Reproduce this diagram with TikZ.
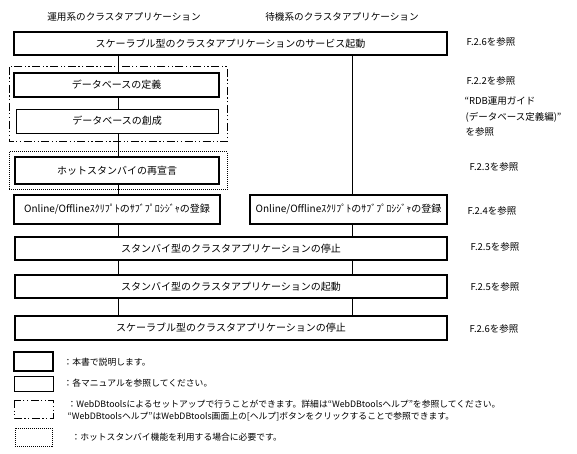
\documentclass[tikz,border=0pt]{standalone}
\usepackage{fontspec}
\setmainfont{Noto Sans CJK JP}
\tikzset{
  stepthick/.style={draw, line width=1.9pt, inner sep=0pt, font=\fontsize{10}{12}\selectfont},
  stepthin/.style={draw, line width=0.8pt, inner sep=0pt, font=\fontsize{10}{12}\selectfont},
  toolframe/.style={line width=1pt, dash pattern=on 8pt off 2.5pt on 1.2pt off 2.5pt on 1.2pt off 2.5pt},
  hotframe/.style={line width=1pt, dash pattern=on 1pt off 1pt},
  reftext/.style={anchor=west, font=\fontsize{9.5}{11}\selectfont},
  notetext/.style={anchor=west, font=\fontsize{8.8}{10}\selectfont},
}
\begin{document}
\begin{tikzpicture}[x=1pt, y=-1pt, font=\fontsize{9.6}{11}\selectfont]
\useasboundingbox (0,0) rectangle (577,454);
\coordinate (lx) at (118,0);
\coordinate (rx) at (352,0);
% column titles
\node (acttitle) at (124,17) {運用系のクラスタアプリケーション};
\node (sbytitle) at (342,17) {待機系のクラスタアプリケーション};
% optional frames
\draw[toolframe] (9,67) rectangle (227,142);
\draw[hotframe] (9,152) rectangle (227,190);
% steps
\node[stepthick, minimum width=433pt, minimum height=23pt] (svcstart) at (230.5,43.5) {スケーラブル型のクラスタアプリケーションのサービス起動};
\node[stepthick, minimum width=205pt, minimum height=24pt] (dbdef) at (116.5,85) {データベースの定義};
\node[stepthin, minimum width=202pt, minimum height=24pt] (dbcreate) at (117,121) {データベースの創成};
\node[stepthick, minimum width=204pt, minimum height=27pt] (hotdecl) at (117,170.5) {ホットスタンバイの再宣言};
\node[stepthick, minimum width=206pt, minimum height=29pt] (actproc) at (117,209.5) {Online/Offlineｽｸﾘﾌﾟﾄのｻﾌﾞﾌﾟﾛｼｼﾞｬの登録};
\node[stepthick, minimum width=197pt, minimum height=29pt] (sbyproc) at (348.5,209.5) {Online/Offlineｽｸﾘﾌﾟﾄのｻﾌﾞﾌﾟﾛｼｼﾞｬの登録};
\node[stepthick, minimum width=432pt, minimum height=23pt] (sbystop) at (231,248.5) {スタンバイ型のクラスタアプリケーションの停止};
\node[stepthick, minimum width=432pt, minimum height=23pt] (sbystart) at (231,286.5) {スタンバイ型のクラスタアプリケーションの起動};
\node[stepthick, minimum width=432pt, minimum height=24pt] (svcstop) at (231,328) {スケーラブル型のクラスタアプリケーションの停止};
% flow lines
\draw[line width=0.8pt] (svcstart.south -| lx) -- (dbdef.north -| lx);
\draw[line width=0.8pt] (dbdef.south -| lx) -- (dbcreate.north -| lx);
\draw[line width=0.8pt] (dbcreate.south -| lx) -- (hotdecl.north -| lx);
\draw[line width=0.8pt] (hotdecl.south -| lx) -- (actproc.north -| lx);
\draw[line width=0.8pt] (actproc.south -| lx) -- (sbystop.north -| lx);
\draw[line width=0.8pt] (sbystop.south -| lx) -- (sbystart.north -| lx);
\draw[line width=0.8pt] (sbystart.south -| lx) -- (svcstop.north -| lx);
\draw[line width=0.8pt] (svcstart.south -| rx) -- (sbyproc.north -| rx);
\draw[line width=0.8pt] (sbyproc.south -| rx) -- (sbystop.north -| rx);
\draw[line width=0.8pt] (sbystop.south -| rx) -- (sbystart.north -| rx);
\draw[line width=0.8pt] (sbystart.south -| rx) -- (svcstop.north -| rx);
% references
\node[reftext] (ref1) at (463,42) {F.2.6を参照};
\node[reftext] (ref2) at (463,81) {F.2.2を参照};
\node[reftext] (ref3a) at (461,101) {“RDB運用ガイド};
\node[reftext] (ref3b) at (462,117) {(データベース定義編)”};
\node[reftext] (ref3c) at (462,132) {を参照};
\node[reftext] (ref4) at (466,167) {F.2.3を参照};
\node[reftext] (ref5) at (464,211) {F.2.4を参照};
\node[reftext] (ref6) at (467,247) {F.2.5を参照};
\node[reftext] (ref7) at (467,287) {F.2.5を参照};
\node[reftext] (ref8) at (466,329) {F.2.6を参照};
% legend
\node[stepthick, minimum width=39pt, minimum height=19pt] (keythick) at (33.5,361.5) {};
\node[stepthin, minimum width=39pt, minimum height=15pt] (keythin) at (33.5,384) {};
\draw[toolframe] (14,400) rectangle (53,418);
\draw[hotframe] (15,428) rectangle (52,446);
\node[notetext] (note1) at (60,362) {：本書で説明します。};
\node[notetext] (note2) at (60,383) {：各マニュアルを参照してください。};
\node[notetext] (note3a) at (64,404) {：WebDBtoolsによるセットアップで行うことができます。詳細は“WebDBtoolsヘルプ”を参照してください。};
\node[notetext] (note3b) at (64,417) {“WebDBtoolsヘルプ”はWebDBtools画面上の[ヘルプ]ボタンをクリックすることで参照できます。};
\node[notetext] (note4) at (68,437) {：ホットスタンバイ機能を利用する場合に必要です。};
\end{tikzpicture}
\end{document}
